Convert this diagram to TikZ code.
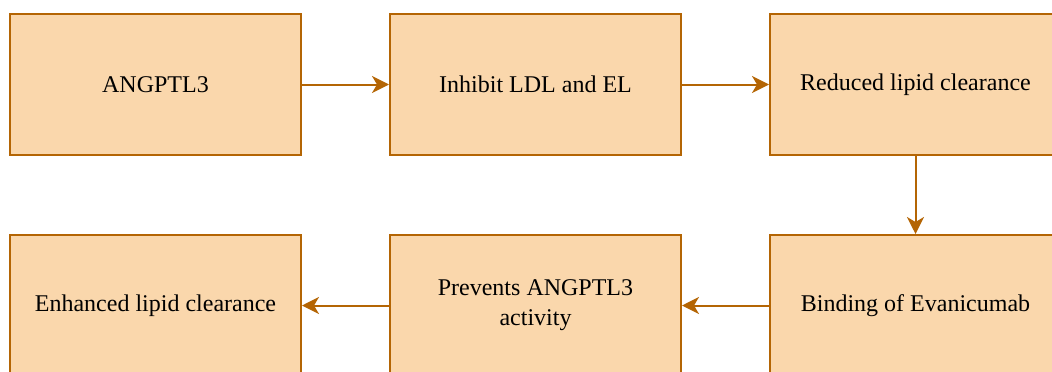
\documentclass[tikz,border=0pt]{standalone}
\usepackage{fontspec}
\setmainfont{Liberation Serif}
\usepackage{xcolor}
\usetikzlibrary{arrows.meta,positioning}
\definecolor{boxfill}{HTML}{FAD7AC}
\definecolor{boxline}{HTML}{B46504}
\tikzset{
  stepbox/.style={draw=boxline,fill=boxfill,line width=2pt,minimum width=291pt,
    minimum height=141pt,inner sep=0pt,align=center,font=\fontsize{24}{30}\selectfont},
  flow/.style={draw=boxline,line width=2pt,-{Stealth[length=17pt,width=17pt,inset=5pt]}}
}
\begin{document}
\begin{tikzpicture}[x=1pt,y=-1pt]
\useasboundingbox (0,0) rectangle (1052,372);
\node[stepbox] (ang) at (155.5,84.5) {ANGPTL3};
\node[stepbox,right=87pt of ang] (inh) {Inhibit LDL and EL};
\node[stepbox,right=87pt of inh] (red) {Reduced lipid clearance};
\node[stepbox,below=78pt of red] (bind) {Binding of Evanicumab};
\node[stepbox,left=87pt of bind] (prev) {Prevents ANGPTL3\\activity};
\node[stepbox,left=87pt of prev] (enh) {Enhanced lipid clearance};
\draw[flow] (ang) -- (inh);
\draw[flow] (inh) -- (red);
\draw[flow] (red) -- (bind);
\draw[flow] (bind) -- (prev);
\draw[flow] (prev) -- (enh);
\end{tikzpicture}
\end{document}
